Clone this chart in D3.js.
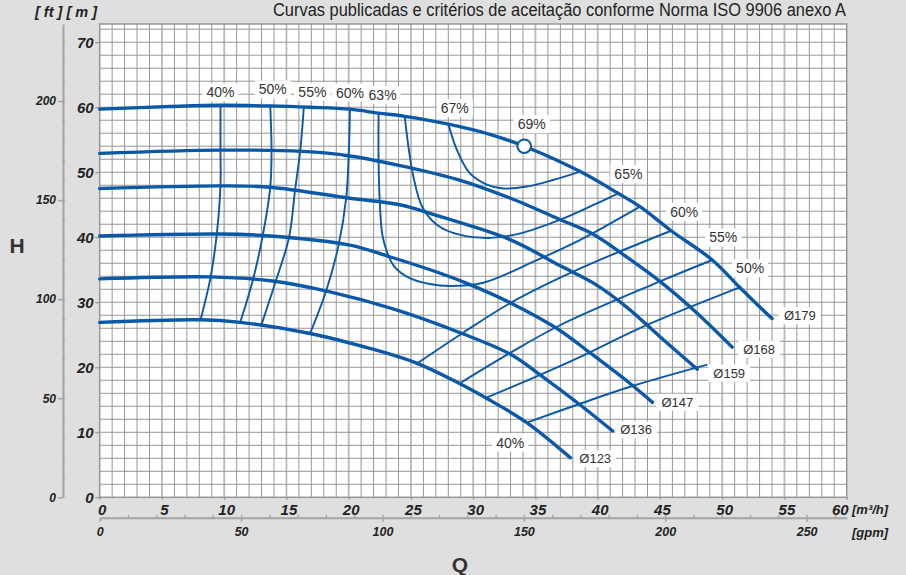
<!DOCTYPE html>
<html lang="pt">
<head>
<meta charset="UTF-8">
<title>Curvas ISO 9906</title>
<script src="https://d3js.org/d3.v7.min.js"></script>
<style>
    body{ margin:0; background:#dfdfdf; }
    svg{ display:block; font-family:"Liberation Sans", Arial, sans-serif; }
    .num{ font-weight:bold; font-style:italic; fill:#222; }
    .grid line{ stroke:#969696; stroke-width:1; }
    .grid line.major{ stroke:#b9b9b9; stroke-width:1.8; }
    .dia{ fill:none; stroke:#0a58a8; stroke-width:3.4; stroke-linecap:round; }
    .eff{ fill:none; stroke:#0a58a8; stroke-width:1.9; }
    .lbl{ font-size:14px; fill:#333; }
    .dlbl{ font-size:13px; fill:#333; }
</style>
</head>
<body>
<svg width="906" height="575"></svg>
<script>
// ---- data (Q in m3/h, H in m) ----
const qTicks = [0, 5, 10, 15, 20, 25, 30, 35, 40, 45, 50, 55, 60];
const hTicks = [0, 10, 20, 30, 40, 50, 60, 70];
const ftTicks = [0, 50, 100, 150, 200];
const gpmTicks = [0, 50, 100, 150, 200, 250];

const diameters = ["Ø179", "Ø168", "Ø159", "Ø147", "Ø136", "Ø123"];
const q179 = [0, 5.6, 9.7, 13.7, 16.9, 20.1, 22.4, 24.5, 28.0, 31.4, 34.1, 38.6, 41.6, 43.4, 45.9, 49.2, 51.4, 53.0, 54.0];
const h179 = [59.7, 60.1, 60.3, 60.2, 60.0, 59.7, 59.1, 58.6, 57.4, 55.8, 54.0, 50.1, 46.8, 44.7, 41.0, 36.5, 32.3, 29.3, 27.5];
const q168 = [0, 9.7, 16.3, 20.1, 24.9, 28.9, 33.0, 37.0, 39.7, 42.3, 45.0, 47.7, 50.8];
const h168 = [52.9, 53.4, 53.2, 52.5, 50.7, 48.8, 46.0, 42.7, 40.4, 37.0, 33.2, 28.8, 23.1];
const q159 = [0, 9.7, 13.7, 20.1, 24.1, 27.3, 33.0, 37.0, 39.7, 42.3, 45.0, 48.0];
const h159 = [47.5, 47.9, 47.7, 46.0, 45.0, 43.2, 39.6, 35.6, 32.9, 29.3, 24.7, 19.7];
const q147 = [0, 9.7, 13.7, 20.1, 23.3, 27.3, 29.5, 33.0, 36.7, 39.4, 42.6, 44.4];
const h147 = [40.2, 40.5, 40.2, 38.8, 37.0, 34.5, 32.9, 29.9, 26.0, 22.2, 17.5, 14.6];
const q136 = [0, 8.9, 13.7, 18.5, 23.7, 29.1, 33.0, 35.4, 38.6, 41.2];
const h136 = [33.6, 33.9, 33.3, 31.6, 28.9, 25.2, 22.0, 18.8, 14.2, 10.2];
const q123 = [0, 8.1, 11.3, 16.9, 21.7, 25.5, 28.9, 31.1, 34.3, 37.8];
const h123 = [26.9, 27.3, 26.9, 25.2, 22.9, 20.6, 17.5, 15.2, 11.5, 6.1];

// iso-efficiency curves
const e40q = [9.7, 9.7, 9.7, 9.4, 8.9, 8.1];
const e40h = [60.3, 53.4, 47.9, 40.4, 33.8, 27.3];
const e50q = [13.7, 13.8, 13.7, 13.1, 12.3, 11.3];
const e50h = [60.2, 53.3, 47.7, 40.3, 33.4, 27.0];
const e55q = [16.4, 16.1, 15.7, 15.2, 14.1, 13.0];
const e55h = [60.1, 53.2, 47.4, 39.9, 33.0, 26.6];
const e60q = [20.1, 20.0, 19.8, 19.2, 18.2, 16.9];
const e60h = [59.7, 52.5, 46.1, 38.9, 31.8, 25.2];
const e63q = [22.4, 22.4, 22.5, 22.7, 23.1, 23.7, 24.9, 26.5, 28.1, 30.8, 34.8, 38.6, 41.0, 43.4];
const e63h = [59.1, 51.9, 45.2, 40.4, 37.6, 35.4, 33.7, 32.8, 32.5, 33.0, 36.2, 39.6, 42.1, 44.7];
const e65q = [24.5, 24.8, 25.2, 25.9, 27.1, 28.9, 31.4, 33.8, 37.0, 39.7, 41.7];
const e65h = [58.6, 53.9, 49.3, 44.7, 41.9, 40.4, 39.9, 40.6, 42.7, 45.0, 46.8];
const e67q = [28.0, 28.7, 29.7, 31.1, 32.4, 34.3, 36.4, 38.6];
const e67h = [57.4, 53.4, 49.9, 48.1, 47.5, 47.8, 48.8, 50.1];
const e60bq = [25.5, 29.1, 33.0, 38.6, 45.9];
const e60bh = [20.6, 25.2, 29.9, 35.2, 41.0];
const e55bq = [28.9, 32.7, 37.0, 45.0, 49.2];
const e55bh = [17.5, 21.9, 26.5, 33.2, 36.5];
const e50bq = [30.9, 35.1, 38.6, 43.7, 51.4];
const e50bh = [15.2, 18.6, 21.6, 26.3, 32.3];
const e40bq = [34.3, 38.3, 42.6, 48.8];
const e40bh = [11.5, 14.2, 17.0, 20.4];

const bepQ = 34.1, bepH = 54.0;

// ---- scales ----
const svg = d3.select("svg");
const pLeft = 99.7, pRight = 846.7, pBottom = 497.3, pTop = 24;
const hMax = 72.8;
const x = d3.scaleLinear().domain([0, 60]).range([pLeft, pRight]);
const y = d3.scaleLinear().domain([0, hMax]).range([pBottom, pTop]);
const yFt = d3.scaleLinear().domain([0, hMax / 0.3048]).range([pBottom, pTop]);
const xGpm = d3.scaleLinear().domain([0, 60 / 0.22712]).range([pLeft, pRight]);

const zip = (qs, hs) => qs.map((q, i) => [q, hs[i]]);
const line = d3.line().x(d => x(d[0])).y(d => y(d[1])).curve(d3.curveCatmullRom.alpha(0.5));

// plot background + grid
svg.append("rect").attr("x", pLeft).attr("y", pTop)
    .attr("width", pRight - pLeft).attr("height", pBottom - pTop).attr("fill", "#fff");

let grid = svg.append("g").attr("class", "grid");
grid.selectAll("line.v").data(d3.range(1, 60)).join("line")
    .attr("class", d => d % 5 === 0 ? "v major" : "v")
    .attr("x1", d => x(d)).attr("x2", d => x(d))
    .attr("y1", pTop).attr("y2", pBottom);
grid.selectAll("line.h").data(d3.range(2, 73, 2)).join("line")
    .attr("class", "h")
    .attr("x1", pLeft).attr("x2", pRight)
    .attr("y1", d => y(d)).attr("y2", d => y(d));
svg.append("rect").attr("x", pLeft).attr("y", pTop)
    .attr("width", pRight - pLeft).attr("height", pBottom - pTop)
    .attr("fill", "none").attr("stroke", "#969696").attr("stroke-width", 1.5);

// ---- axes ----
let mAxis = svg.append("g").attr("transform", "translate(" + pLeft + ",0)")
    .call(d3.axisLeft(y).tickValues(hTicks).tickSize(4.5).tickPadding(1.5));
mAxis.select(".domain").remove();
mAxis.selectAll("line").attr("stroke", "#888");
mAxis.selectAll("text").attr("class", "num").style("font-size", "15px");

let qAxis = svg.append("g").attr("transform", "translate(0," + pBottom + ")")
    .call(d3.axisBottom(x).tickValues(qTicks).tickSize(2.5).tickPadding(4.5));
qAxis.select(".domain").remove();
qAxis.selectAll("line").attr("stroke", "#888");
qAxis.selectAll("text").attr("class", "num").style("font-size", "15px")
    .attr("dx", 2);
// last label sits left of the unit text
qAxis.selectAll(".tick").filter(d => d === 60).select("text")
    .attr("text-anchor", "end").attr("dx", 1.5);

let ftAxis = svg.append("g").attr("transform", "translate(63,0)")
    .call(d3.axisLeft(yFt).tickValues(ftTicks).tickSize(5).tickSizeOuter(0).tickPadding(2));
ftAxis.select(".domain").attr("stroke", "#a4a4a4").attr("stroke-width", 2);
ftAxis.selectAll("line").attr("stroke", "#a4a4a4").attr("stroke-width", 1.5);
ftAxis.selectAll("text").attr("class", "num").style("font-size", "12px");
svg.append("g").attr("transform", "translate(62,0)")
    .call(d3.axisRight(yFt).tickValues(d3.range(10, 240, 10)).tickSize(3).tickSizeOuter(0).tickFormat(""))
    .call(g => g.select(".domain").remove())
    .selectAll("line").attr("stroke", "#a4a4a4").attr("stroke-width", 1.3);

let gpmAxis = svg.append("g").attr("transform", "translate(0,517.7)")
    .call(d3.axisBottom(xGpm).tickValues(gpmTicks).tickSize(4).tickSizeOuter(0).tickPadding(5));
gpmAxis.select(".domain").attr("stroke", "#a4a4a4").attr("stroke-width", 2);
gpmAxis.selectAll("line").attr("stroke", "#a4a4a4").attr("stroke-width", 1.5);
gpmAxis.selectAll("text").attr("class", "num").style("font-size", "12.5px");
svg.append("g").attr("transform", "translate(0,517.7)")
    .call(d3.axisTop(xGpm).tickValues(d3.range(10, 270, 10)).tickSize(3).tickSizeOuter(0).tickFormat(""))
    .call(g => g.select(".domain").remove())
    .selectAll("line").attr("stroke", "#a4a4a4").attr("stroke-width", 1.3);

// axis titles
svg.append("text").attr("class", "num").attr("x", 35).attr("y", 17)
    .style("font-size", "14.5px").text("[ ft ] [ m ]");
svg.append("text").attr("class", "num").attr("x", 852).attr("y", 514)
    .style("font-size", "13px").text("[m³/h]");
svg.append("text").attr("class", "num").attr("x", 852).attr("y", 537)
    .style("font-size", "13px").text("[gpm]");
svg.append("text").attr("x", 17).attr("y", 253).attr("text-anchor", "middle")
    .style("font-size", "21px").style("font-weight", "bold").attr("fill", "#333").text("H");
svg.append("text").attr("x", 460).attr("y", 572).attr("text-anchor", "middle")
    .style("font-size", "21px").style("font-weight", "bold").attr("fill", "#333").text("Q");
svg.append("text").attr("x", 846).attr("y", 16).attr("text-anchor", "end")
    .attr("textLength", 573).attr("lengthAdjust", "spacingAndGlyphs")
    .style("font-family", "'Liberation Sans Narrow', 'Liberation Sans', Arial, sans-serif")
    .style("font-size", "17.5px").attr("fill", "#222")
    .text("Curvas publicadas e critérios de aceitação conforme Norma ISO 9906 anexo A");

// ---- curves ----
const effCurves = [
    zip(e40q, e40h), zip(e50q, e50h), zip(e55q, e55h), zip(e60q, e60h),
    zip(e63q, e63h), zip(e65q, e65h), zip(e67q, e67h),
    zip(e60bq, e60bh), zip(e55bq, e55bh), zip(e50bq, e50bh), zip(e40bq, e40bh)
];
svg.append("g").selectAll("path").data(effCurves).join("path")
    .attr("class", "eff").attr("d", line);

const diaCurves = [zip(q179, h179), zip(q168, h168), zip(q159, h159),
    zip(q147, h147), zip(q136, h136), zip(q123, h123)];
svg.append("g").selectAll("path").data(diaCurves).join("path")
    .attr("class", "dia").attr("d", line);

svg.append("circle").attr("cx", x(bepQ)).attr("cy", y(bepH)).attr("r", 6.8)
    .attr("fill", "#fff").attr("stroke", "#0a58a8").attr("stroke-width", 2);

// ---- labels with white boxes ----
function boxed(cls, px, py, txt, anchor, padX, padY) {
    let g = svg.append("g");
    let t = g.append("text").attr("class", cls).attr("x", px).attr("y", py)
        .attr("text-anchor", anchor).attr("dominant-baseline", "central").text(txt);
    let b = t.node().getBBox();
    g.insert("rect", "text").attr("x", b.x - padX).attr("y", b.y - padY)
        .attr("width", b.width + 2 * padX).attr("height", b.height + 2 * padY)
        .attr("fill", "#fff");
}

// label placement: [text, point, dx, dy]
const first = a => a[0], last = a => a[a.length - 1];
const effPlace = [
    ["40%", first(effCurves[0]), 0, -13],
    ["50%", first(effCurves[1]), 2.5, -16.5],
    ["55%", first(effCurves[2]), 8.5, -15],
    ["60%", first(effCurves[3]), 0, -16.5],
    ["63%", first(effCurves[4]), 4, -18],
    ["67%", first(effCurves[6]), 6.5, -16],
    ["69%", [bepQ, bepH], 7.5, -22],
    ["65%", last(effCurves[5]), 9.5, -19],
    ["60%", last(effCurves[7]), 13, -19],
    ["55%", last(effCurves[8]), 11, -22.5],
    ["50%", last(effCurves[9]), 10.5, -19],
    ["40%", first(effCurves[10]), -16.5, 20]
];
effPlace.forEach(p => boxed("lbl", x(p[1][0]) + p[2], y(p[1][1]) + p[3], p[0], "middle", 4, 1));

const diaPlace = [[12, -3], [11, 2], [16, 4], [9, 0], [7.5, -1], [9, 1]];
diaCurves.forEach((c, i) => {
    let e = last(c);
    boxed("dlbl", x(e[0]) + diaPlace[i][0], y(e[1]) + diaPlace[i][1], diameters[i], "start", 5, 1);
});
</script>
</body>
</html>
